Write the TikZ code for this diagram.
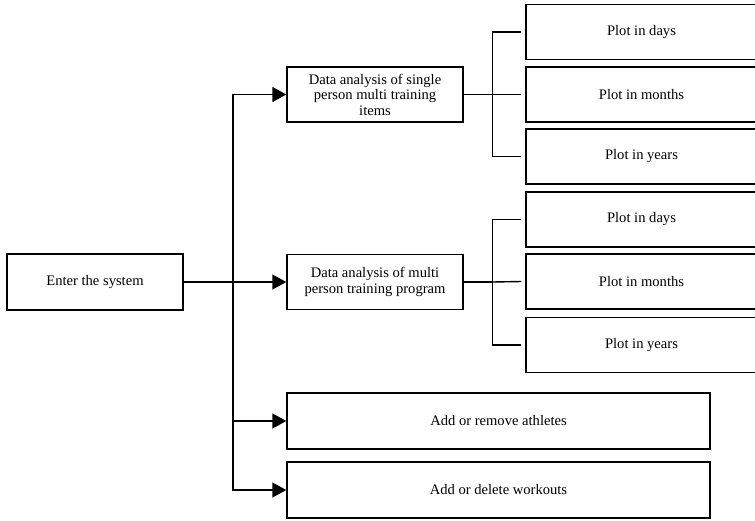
\documentclass[tikz,border=0pt]{standalone}
\usepackage{fontspec}
\setmainfont{Liberation Serif}
\usetikzlibrary{arrows.meta}

\tikzset{
    box/.style={draw, line width=0.8pt, align=center, inner sep=0pt,
        font=\fontsize{8.3}{8.8}\selectfont},
    wide/.style={box, minimum width=176*0.02cm, minimum height=55*0.02cm},
    plotbox/.style={box, minimum width=231*0.02cm, minimum height=55*0.02cm},
    longbox/.style={box, minimum width=423*0.02cm, minimum height=56*0.02cm},
    arr/.style={line width=0.8pt, -{Triangle[length=0.28cm, width=0.3cm]}},
    ln/.style={line width=0.8pt}
}

\begin{document}
\begin{tikzpicture}[x=0.02cm, y=-0.02cm]

    \useasboundingbox (0,0) rectangle (755,521);

    % left and middle column
    \node[wide, minimum height=56*0.02cm] (enter) at (95,282) {Enter the system};
    \node[wide] (single) at (375,94.5) {Data analysis of single\\person multi training\\items};
    \node[wide] (multi) at (375,282) {Data analysis of multi\\person training program};
    \node[longbox] (athletes) at (498.5,421) {Add or remove athletes};
    \node[longbox] (workouts) at (498.5,490) {Add or delete workouts};

    % plot boxes
    \node[plotbox] (sday) at (641.5,32) {Plot in days};
    \node[plotbox] (smonth) at (641.5,94.5) {Plot in months};
    \node[plotbox] (syear) at (641.5,156.5) {Plot in years};
    \node[plotbox] (mday) at (641.5,219.5) {Plot in days};
    \node[plotbox] (mmonth) at (641.5,281.5) {Plot in months};
    \node[plotbox] (myear) at (641.5,345) {Plot in years};

    % trunk
    \coordinate (tr) at (233,0);
    \draw[arr] (enter.east) -- (multi.west);
    \draw[arr] (tr |- multi.west) |- (single.west);
    \draw[arr] (tr |- multi.west) |- (athletes.west);
    \draw[arr] (tr |- multi.west) |- (workouts.west);

    % branches
    \draw[ln] (single.east) -- ++(29,0) coordinate (sj);
    \draw[ln] ([xshift=-0.08cm]sday.west) -| (sj) |- ([xshift=-0.08cm]syear.west);
    \draw[ln] (sj) -- ([xshift=-0.08cm]smonth.west);

    \draw[ln] (multi.east) -- ++(29,0) coordinate (mj);
    \draw[ln] ([xshift=-0.08cm]mday.west) -| (mj) |- ([xshift=-0.08cm]myear.west);
    \draw[ln] (mj) -- ([xshift=-0.08cm]mmonth.west);

\end{tikzpicture}
\end{document}
